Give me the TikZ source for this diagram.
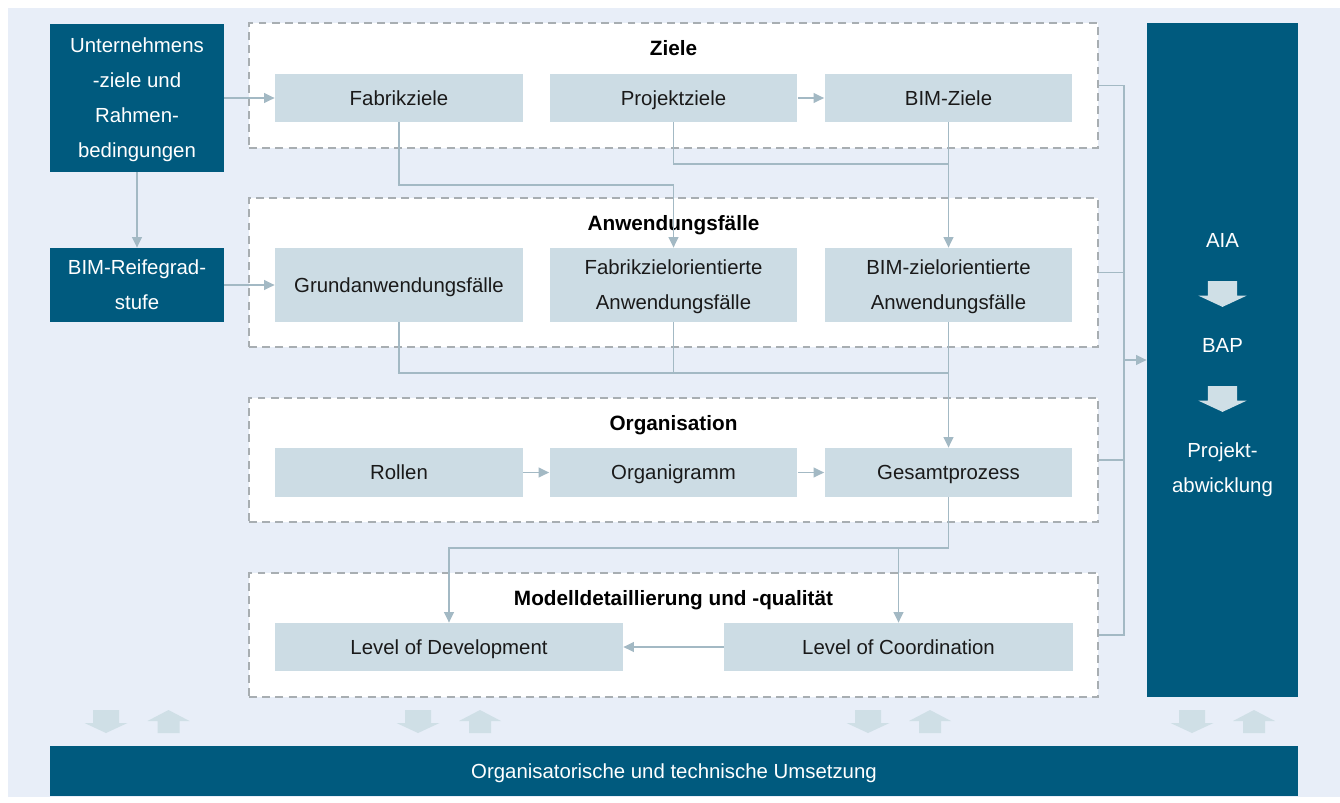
\documentclass[tikz,border=0pt]{standalone}
\usepackage{fontspec}
\setmainfont{Liberation Sans}
\usetikzlibrary{arrows.meta,positioning}
\definecolor{DarkClr}{RGB}{0,90,126}
\definecolor{BoxClr}{RGB}{204,220,228}
\definecolor{BgClr}{RGB}{232,238,248}
\definecolor{LineClr}{RGB}{163,185,196}
\definecolor{DashClr}{RGB}{168,174,178}
\definecolor{ArrClr}{RGB}{207,223,230}
\definecolor{TxtClr}{RGB}{26,26,26}

\tikzset{
  dnarrow/.pic={\fill[ArrClr] (-13,-11.5)--(13,-11.5)--(13,1.5)--(21.5,1.5)--(0,11.5)--(-21.5,1.5)--(-13,1.5)--cycle;},
  uparrow/.pic={\fill[ArrClr] (-11,11.5)--(11,11.5)--(11,-0.5)--(21,-0.5)--(0,-11.5)--(-21,-0.5)--(-11,-0.5)--cycle;}
}

\begin{document}
\begin{tikzpicture}[x=0.02cm,y=-0.02cm,
  every node/.style={font=\fontsize{11.6}{20}\selectfont},
  strutted/.style={execute at begin node=\strut,execute at end node=\strut},
  darkbox/.style={fill=DarkClr,text=white,align=center,inner sep=0pt,strutted},
  zbox/.style={fill=BoxClr,text=TxtClr,align=center,inner sep=0pt,minimum width=4.96cm,strutted},
  frame/.style={draw=DashClr,fill=white,line width=1.1pt,dash pattern=on 4.5pt off 3pt,inner sep=0pt,minimum width=16.98cm},
  title/.style={font=\fontsize{11.8}{14}\selectfont\bfseries,text=black},
  wtext/.style={text=white,align=center,strutted},
  conn/.style={draw=LineClr,line width=1.1pt,-{Triangle[length=6pt,width=5.5pt]}},
  line/.style={draw=LineClr,line width=1.1pt}]
\useasboundingbox (0,0) rectangle (1340,802);
\fill[white] (0,0) rectangle (1340,802);
\fill[BgClr] (8,8) rectangle (1340,797);

% frames
\node[frame,minimum height=2.5cm]  (fZiele)  at (673.5,85.5) {};
\node[frame,minimum height=2.98cm] (fAnw)    at (673.5,272.5) {};
\node[frame,minimum height=2.48cm] (fOrg)    at (673.5,460) {};
\node[frame,minimum height=2.48cm] (fModell) at (673.5,635) {};

\node[title] (tZiele)  at (673.5,48)  {Ziele};
\node[title] (tAnw)    at (673.5,225) {Anwendungsfälle};
\node[title] (tOrg)    at (673.5,425) {Organisation};
\node[title] (tModell) at (673.5,600) {Modelldetaillierung und -qualität};

% left
\node[darkbox,minimum width=3.48cm,minimum height=2.96cm] (uz) at (137,98) {\strut Unternehmens\\-ziele und\\Rahmen-\\bedingungen};
\node[darkbox,minimum width=3.48cm,minimum height=1.48cm] (br) at (137,285) {\strut BIM-Reifegrad-\\stufe};

% Ziele
\node[zbox,minimum height=0.96cm] (fz) at (399,98)   {Fabrikziele};
\node[zbox,minimum height=0.96cm] (pz) at (673.5,98) {Projektziele};
\node[zbox,minimum height=0.96cm] (bz) at (948.5,98) {BIM-Ziele};

% Anwendungsfaelle
\node[zbox,minimum height=1.48cm] (ga)  at (399,285)   {Grundanwendungsfälle};
\node[zbox,minimum height=1.48cm] (fao) at (673.5,285) {\strut Fabrikzielorientierte\\Anwendungsfälle};
\node[zbox,minimum height=1.48cm] (bza) at (948.5,285) {\strut BIM-zielorientierte\\Anwendungsfälle};

% Organisation
\node[zbox,minimum height=0.98cm] (ro) at (399,472.5)   {Rollen};
\node[zbox,minimum height=0.98cm] (og) at (673.5,472.5) {Organigramm};
\node[zbox,minimum height=0.98cm] (gp) at (948.5,472.5) {Gesamtprozess};

% Modell
\node[zbox,minimum width=6.96cm,minimum height=0.96cm] (lod) at (449,647)   {Level of Development};
\node[zbox,minimum width=6.98cm,minimum height=0.96cm] (loc) at (898.5,647) {Level of Coordination};

% right + bottom
\node[darkbox,minimum width=3.02cm,minimum height=13.48cm] (pa) at (1222.5,360) {};
\node[wtext] (aia) at (1222.5,240) {AIA};
\node[wtext] (bap) at (1222.5,345) {BAP};
\node[wtext] (pab) at (1222.5,468) {\strut Projekt-\\abwicklung};
\pic[scale=1.12] at (1222.5,294) {dnarrow};
\pic[scale=1.12] at (1222.5,399) {dnarrow};
\node[darkbox,minimum width=24.96cm,minimum height=1cm] (ou) at (674,771) {Organisatorische und technische Umsetzung};

\foreach \xa/\xb in {106/168.5,418/480,868/930,1192/1254}{
  \pic at (\xa,721.5) {dnarrow};
  \pic at (\xb,721.5) {uparrow};
}

% connectors
\draw[conn] (uz.south) -- (br.north);
\draw[conn] (uz.east) -- (fz.west);
\draw[conn] (br.east) -- (ga.west);
\draw[conn] (pz.east) -- (bz.west);
\draw[conn] (fz.south) -- ++(0,63) -| (fao.north);
\draw[line] (pz.south) -- ++(0,42) -| (bz.south);
\draw[conn] (bz.south) -- (bza.north);
\draw[line] (ga.south) -- ++(0,51) -| (bza.south);
\draw[line] (fao.south) -- ++(0,51);
\draw[conn] (bza.south) -- (gp.north);
\draw[conn] (ro.east) -- (og.west);
\draw[conn] (og.east) -- (gp.west);
\draw[conn] (gp.south) -- ++(0,51) -| (lod.north);
\draw[conn] (gp.south) -- ++(0,51) -| (loc.north);
\draw[conn] (loc.west) -- (lod.east);

\coordinate (trunk) at (1123,360);
\draw[line] (fZiele.east) -- ++(25,0) |- (fModell.east);
\draw[line] (fAnw.east) -- ++(25,0);
\draw[line] (fOrg.east) -- ++(25,0);
\draw[conn] (trunk) -- (pa.west);
\end{tikzpicture}
\end{document}
